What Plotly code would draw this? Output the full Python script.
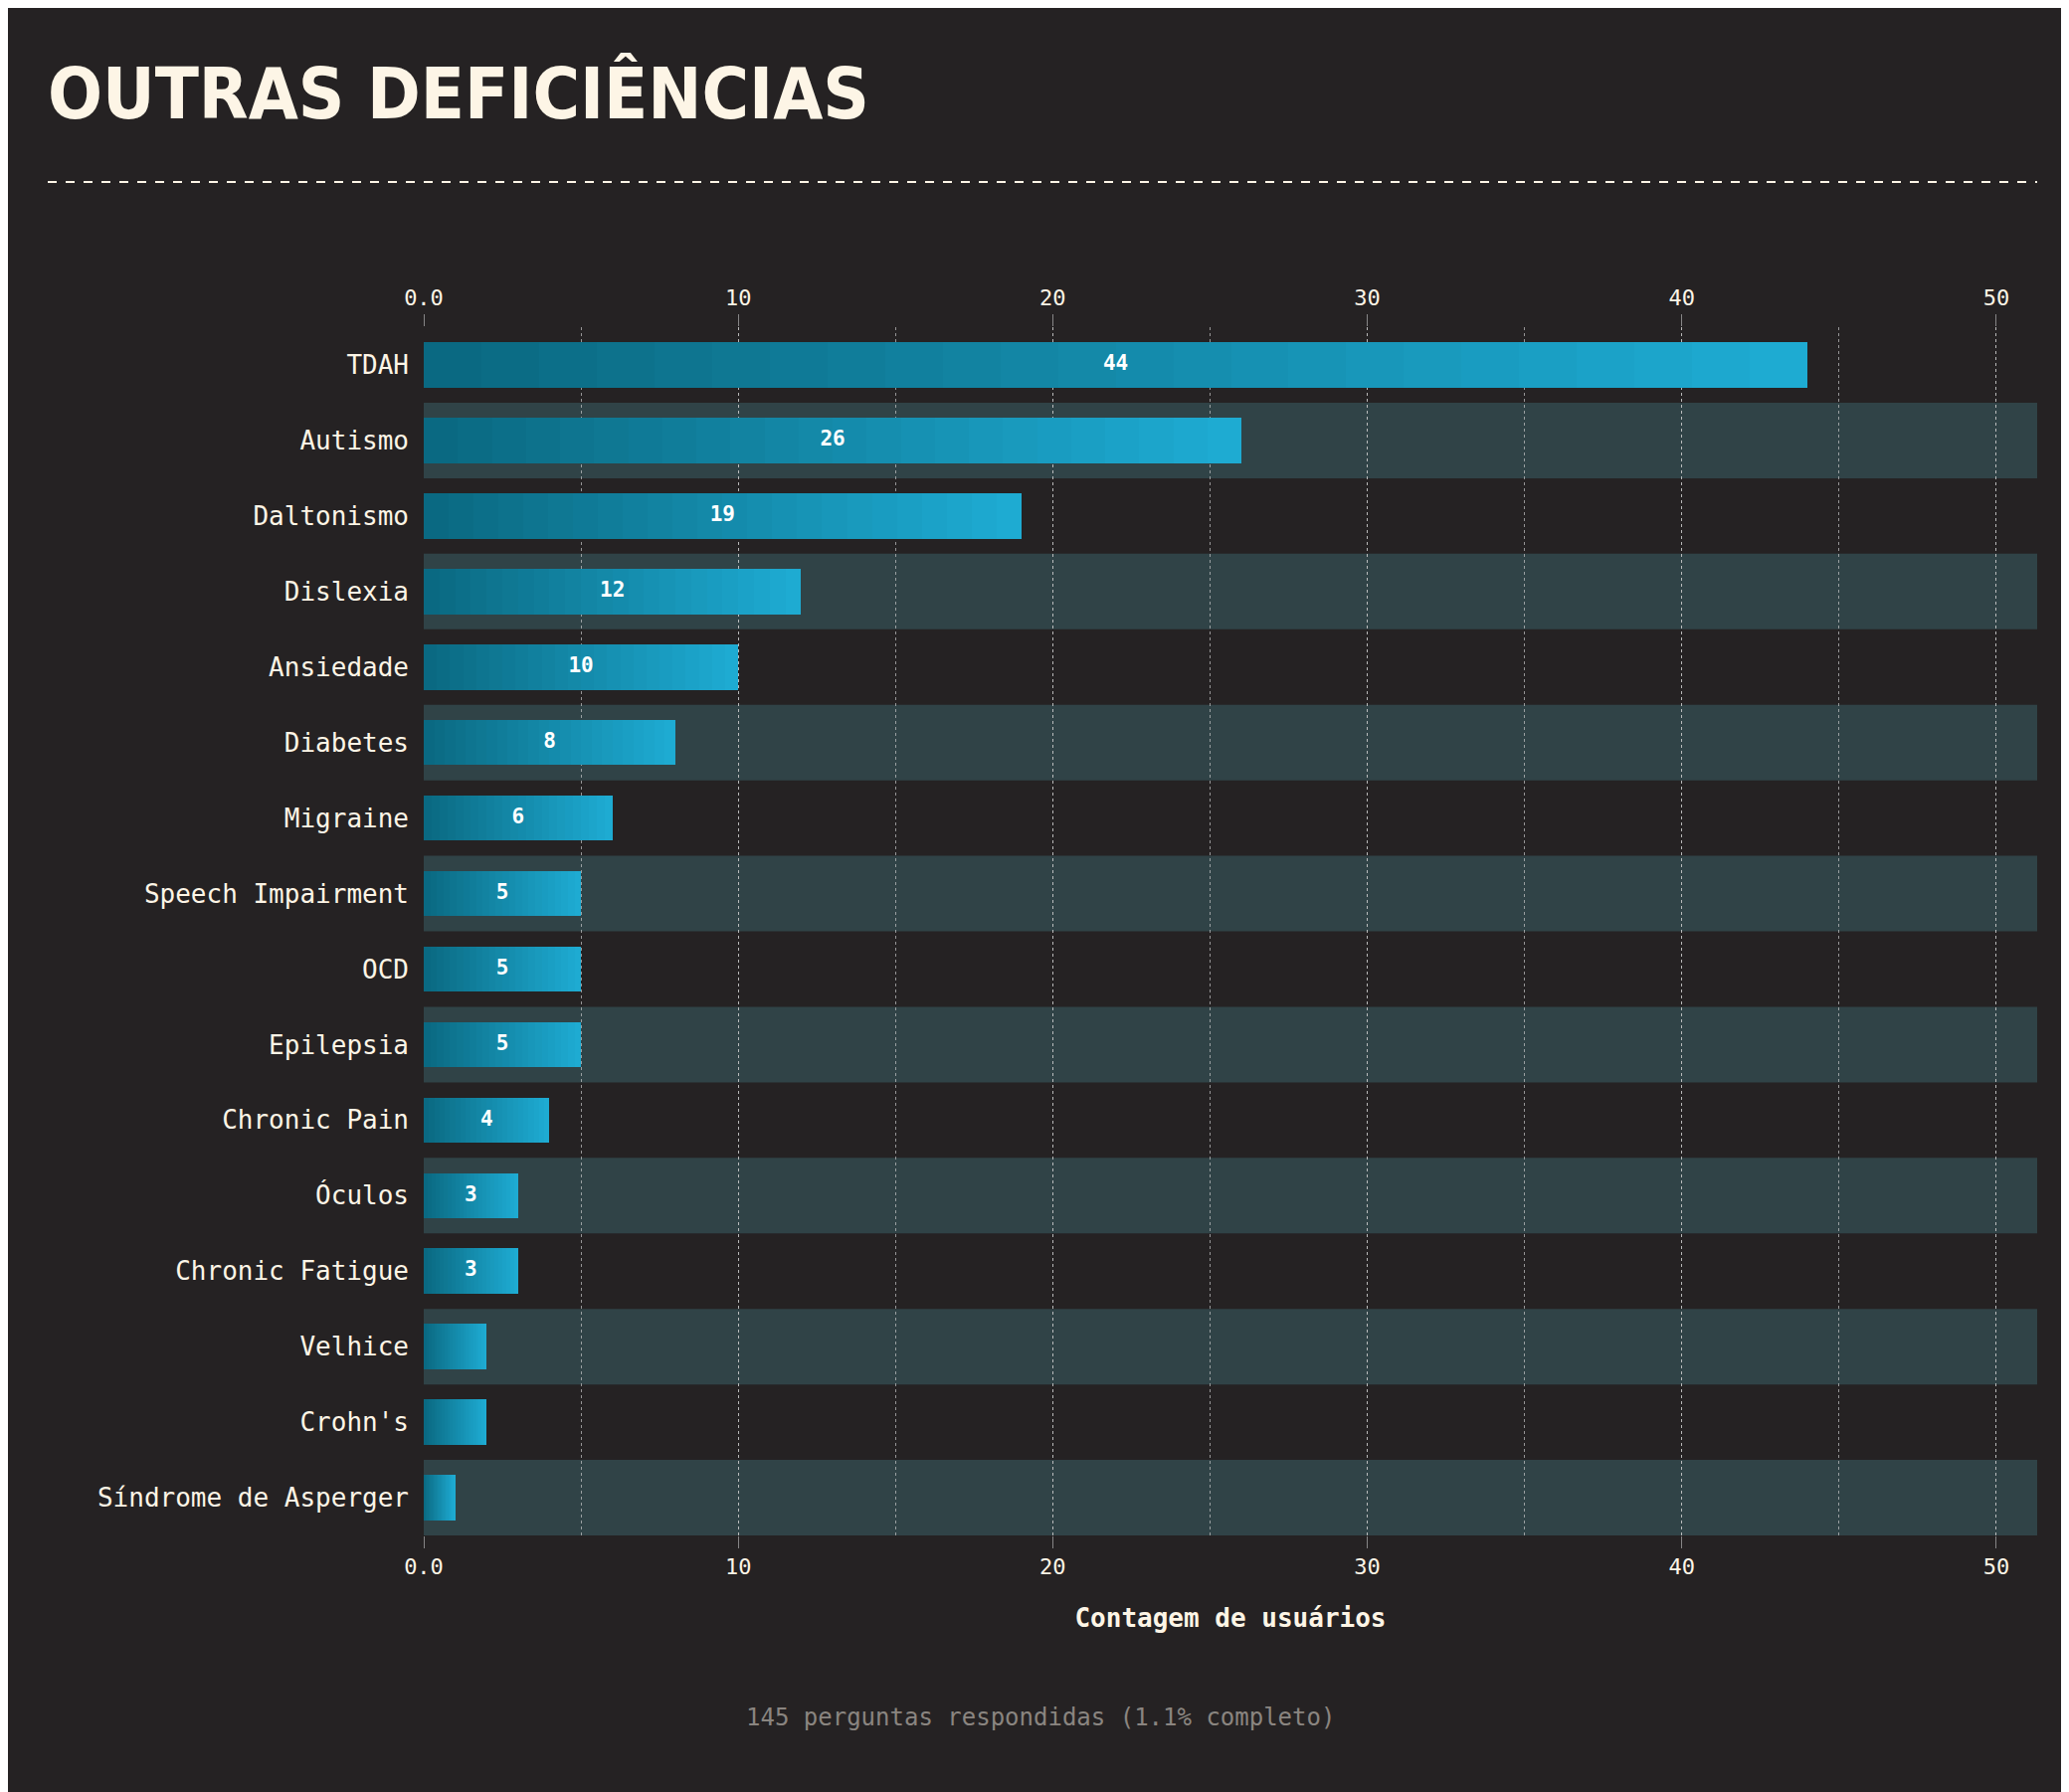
import plotly.graph_objects as go

categories = ["TDAH","Autismo","Daltonismo","Dislexia","Ansiedade","Diabetes","Migraine",
              "Speech Impairment","OCD","Epilepsia","Chronic Pain","Óculos","Chronic Fatigue",
              "Velhice","Crohn's","Síndrome de Asperger"]
values = [44,26,19,12,10,8,6,5,5,5,4,3,3,2,2,1]
x_ticks = [0,10,20,30,40,50]
x_tick_labels = ["0.0","10","20","30","40","50"]

W, H = 2080, 1802
BG = "#252223"
BAND = "#304347"
TXT = "#fdf5e6"
MONO = "DejaVu Sans Mono, Liberation Mono, monospace"
c0 = (10, 104, 128); c1 = (30, 172, 212)

fig = go.Figure()
N = 24
for i in range(N):
    t = (i + 0.5) / N
    col = "rgb(%d,%d,%d)" % tuple(round(a + (b - a) * t) for a, b in zip(c0, c1))
    fig.add_trace(go.Bar(
        y=categories, x=[v / N for v in values], base=[v * i / N for v in values],
        orientation="h", width=0.6, marker=dict(color=col, line=dict(width=0)),
        hoverinfo="skip", showlegend=False))

lbl = [str(v) if v >= 3 else "" for v in values]
fig.add_trace(go.Scatter(
    y=categories, x=[v / 2 for v in values], text=lbl, mode="text",
    textfont=dict(family=MONO, size=21, color="white", weight="bold"),
    textposition="middle center", showlegend=False, hoverinfo="skip"))
fig.add_trace(go.Scatter(x=[0], y=[categories[0]], xaxis="x2", mode="markers",
                         marker=dict(opacity=0), showlegend=False, hoverinfo="skip"))

for i in range(1, len(categories), 2):
    fig.add_shape(type="rect", xref="paper", yref="y", x0=0, x1=1,
                  y0=i - 0.5, y1=i + 0.5, fillcolor=BAND, line=dict(width=0), layer="below")

fig.add_shape(type="line", xref="paper", yref="paper", x0=-378/1622, x1=1,
              y0=1 + (321 - 175) / 1215, y1=1 + (321 - 175) / 1215,
              line=dict(color=TXT, width=2, dash="dash"))

xcommon = dict(range=[0, 51.3], tickvals=x_ticks, ticktext=x_tick_labels,
               showgrid=True, gridcolor="rgba(200,200,200,0.45)", griddash="dot", gridwidth=1,
               minor=dict(dtick=5, showgrid=True, gridcolor="rgba(200,200,200,0.45)", griddash="dot"),
               ticks="outside", ticklen=12, tickcolor="rgba(200,200,200,0.6)",
               tickfont=dict(family=MONO, size=22, color=TXT), zeroline=False, showline=False)
fig.update_layout(
    width=W, height=H, paper_bgcolor=BG, plot_bgcolor=BG,
    margin=dict(l=418, r=40, t=321, b=266),
    barmode="overlay", bargap=0,
    xaxis=dict(**xcommon, title=dict(text="<b>Contagem de usuários</b>", standoff=30,
               font=dict(family=MONO, size=26, color=TXT))),
    xaxis2=dict(**xcommon, overlaying="x", side="top", matches="x"),
    yaxis=dict(categoryorder="array", categoryarray=categories, autorange="reversed",
               range=[15.5, -0.5], tickfont=dict(family=MONO, size=26, color=TXT),
               showgrid=False, ticks="", ticklabelstandoff=14),
    title=dict(text="<b>OUTRAS DEFICIÊNCIAS</b>", x=40/W, xanchor="left", y=1 - 86/H, yanchor="middle",
               font=dict(family="Liberation Sans Narrow, DejaVu Sans Condensed, sans-serif",
                         size=72, color=TXT)),
    annotations=[dict(text="145 perguntas respondidas (1.1% completo)", xref="paper", yref="paper",
                      x=(1038 - 418) / 1622, y=-(1719 - 1536) / 1215, xanchor="center", yanchor="middle",
                      showarrow=False, font=dict(family=MONO, size=24, color="#8a8580"))],
)
fig.update_yaxes(range=[15.5, -0.5], autorange=False)
fig.write_html("out.html")
